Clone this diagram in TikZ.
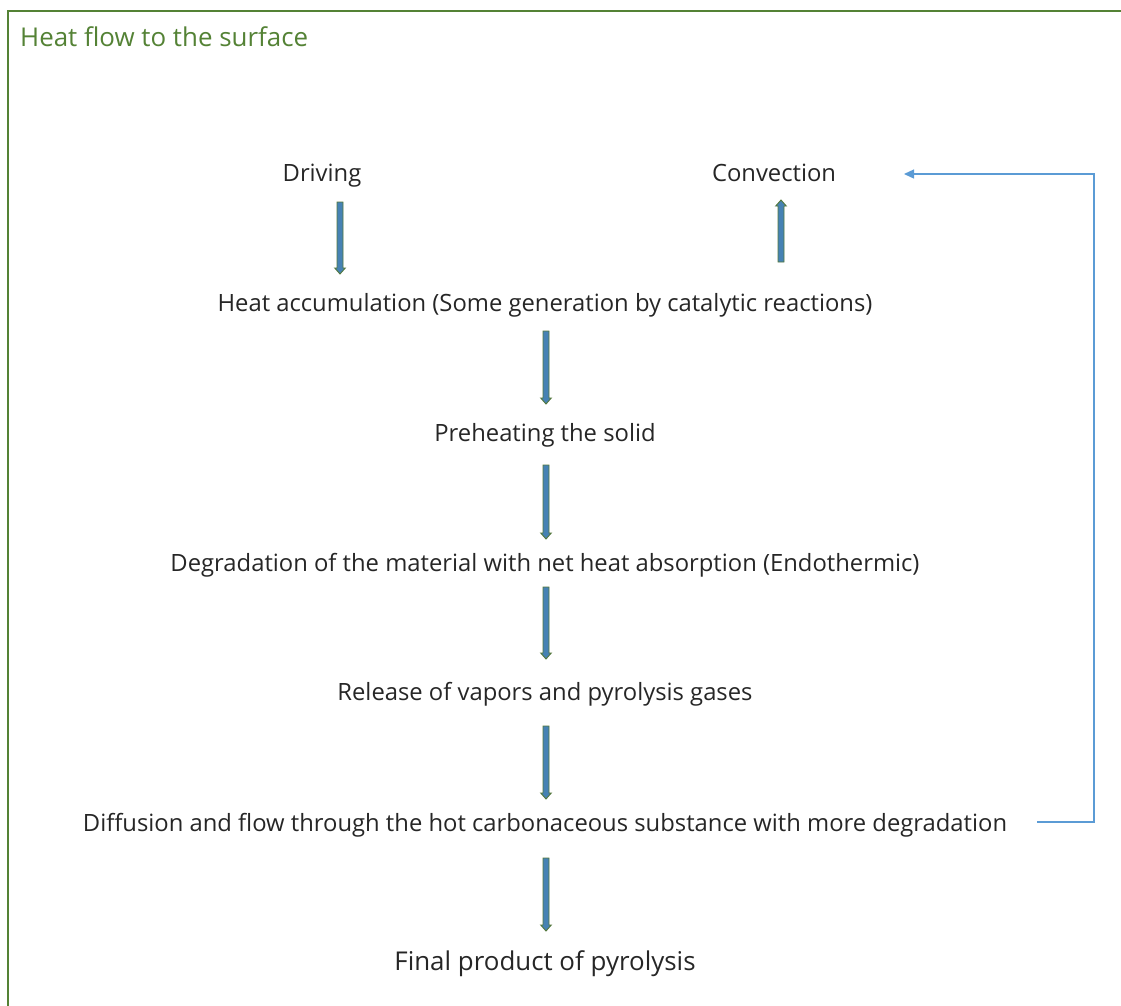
\documentclass[tikz,border=0pt]{standalone}
\usepackage{fontspec}
\setmainfont{Open Sans}
\usetikzlibrary{calc,arrows.meta}
\definecolor{framegreen}{RGB}{84,130,53}
\definecolor{arrowgreen}{RGB}{84,120,60}
\definecolor{arrowblue}{RGB}{70,130,180}
\definecolor{linkblue}{RGB}{91,155,213}
\tikzset{
  lbl/.style={anchor=base, inner sep=0pt, font=\fontsize{23.8}{28}\selectfont, text=black!85},
  bigl/.style={lbl, font=\fontsize{25.9}{30}\selectfont},
  blockarrow/.style={draw=arrowgreen, fill=arrowblue, line width=0.9pt, line join=miter,
    to path={let \p1=(\tikztostart), \p2=(\tikztotarget), \n1={6*sign(\y2-\y1)} in
      ({\x1-3},\y1) -- ({\x1-3},{\y2-(\n1)}) -- ({\x1-5.3},{\y2-(\n1)}) -- (\x1,\y2)
      -- ({\x1+5.3},{\y2-(\n1)}) -- ({\x1+3},{\y2-(\n1)}) -- ({\x1+3},\y1) -- cycle}},
  feedback/.style={draw=linkblue, line width=1.3pt, -{Triangle[length=10pt,width=9pt]}}
}
\begin{document}
\begin{tikzpicture}[x=1pt,y=-1pt]
\useasboundingbox (0,0) rectangle (1121,1005);
\draw[framegreen, line width=1.6pt] (1125,11) -- (8,11) -- (8,1010);
\node[anchor=base west, inner sep=0pt, font=\fontsize{25.9}{30}\selectfont, text=framegreen] (title) at (20,46) {Heat flow to the surface};
\node[lbl] (driving) at (322,181) {Driving};
\node[lbl] (conv) at (774,181) {Convection};
\node[lbl] (heat) at (545,311) {Heat accumulation (Some generation by catalytic reactions)};
\node[lbl] (pre) at (545,441) {Preheating the solid};
\node[lbl] (deg) at (545,571) {Degradation of the material with net heat absorption (Endothermic)};
\node[lbl] (rel) at (545,700) {Release of vapors and pyrolysis gases};
\node[lbl] (diff) at (545,831) {Diffusion and flow through the hot carbonaceous substance with more degradation};
\node[bigl] (final) at (545,970) {Final product of pyrolysis};
% arrow ends
\coordinate (d1) at (340,202); \coordinate (d2) at (340,274);
\coordinate (c1) at (781,262); \coordinate (c2) at (781,200);
\coordinate (h1) at (546,331); \coordinate (h2) at (546,404);
\coordinate (p1) at (546,465); \coordinate (p2) at (546,539);
\coordinate (g1) at (546,587); \coordinate (g2) at (546,659);
\coordinate (r1) at (546,726); \coordinate (r2) at (546,799);
\coordinate (f1) at (546,858); \coordinate (f2) at (546,931);
\draw[blockarrow] (d1) to (d2);
\draw[blockarrow] (c1) to (c2);
\draw[blockarrow] (h1) to (h2);
\draw[blockarrow] (p1) to (p2);
\draw[blockarrow] (g1) to (g2);
\draw[blockarrow] (r1) to (r2);
\draw[blockarrow] (f1) to (f2);
\coordinate (fbs) at (1037,822);
\coordinate (fbe) at (904,174);
\draw[feedback] (fbs) -- (1094,822) |- (fbe);
\end{tikzpicture}
\end{document}
